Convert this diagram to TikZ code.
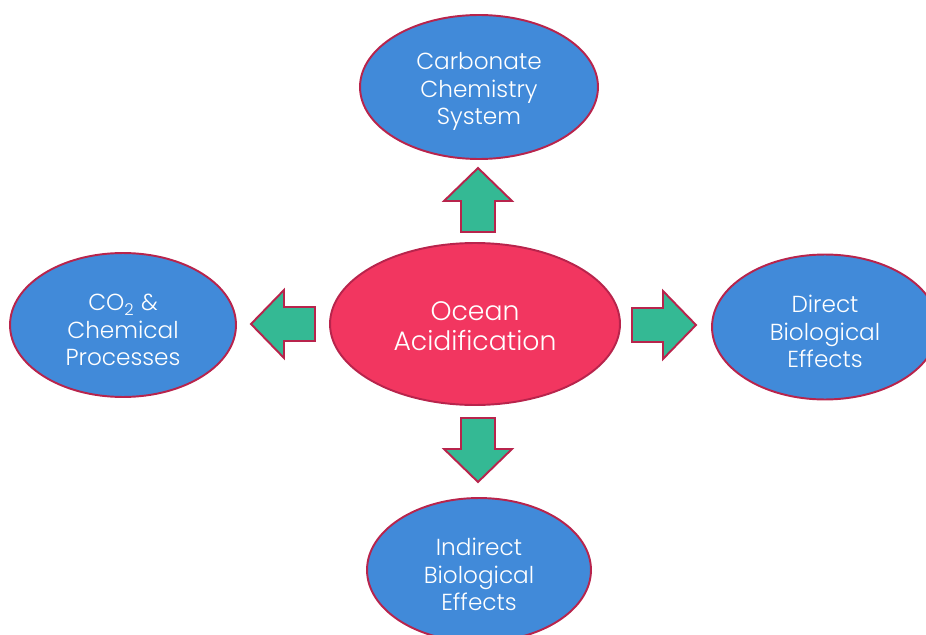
\documentclass[tikz,border=0pt]{standalone}
\usepackage{fontspec}
\setmainfont{Poppins Light}
\usetikzlibrary{shapes.geometric}
\definecolor{oceanblue}{HTML}{418AD9}
\definecolor{acidpink}{HTML}{F23660}
\definecolor{rimred}{HTML}{B8244C}
\definecolor{arrowgreen}{HTML}{34B994}
\newcommand{\lift}[1]{\rule{0pt}{#1}}
\tikzset{
  pod/.style={ellipse,draw=rimred,line width=1.1pt,text=white,align=center,inner sep=0pt},
  bubble/.style={pod,fill=oceanblue,font=\fontsize{13.2}{15.6}\selectfont},
  hub/.style={pod,fill=acidpink,font=\fontsize{15.2}{17}\selectfont},
  blockarrow/.pic={
    \draw[draw=rimred,fill=arrowgreen,line width=1.1pt,line join=miter]
      (0,-17) -- (31,-17) -- (31,-34) -- (64,0) -- (31,34) -- (31,17) -- (0,17) -- cycle;
  }
}

\begin{document}
\begin{tikzpicture}[x=0.02cm,y=-0.02cm]
    \clip (0,0) rectangle (926,635);

    \node [hub, minimum width=5.8cm, minimum height=3.24cm] (ocean) at (475,324) {\lift{13pt}Ocean\\Acidification};

    \node [bubble, minimum width=4.76cm, minimum height=2.88cm] (carbonate) at (479,87) {\lift{15pt}Carbonate\\Chemistry\\System};
    \node [bubble, minimum width=4.52cm, minimum height=2.88cm] (chemical) at (123,325) {\lift{15pt}CO\textsubscript{2} \&\\Chemical\\Processes};
    \node [bubble, minimum width=4.52cm, minimum height=2.9cm] (direct) at (825,327) {\lift{15pt}Direct\\Biological\\Effects};
    \node [bubble, minimum width=4.48cm, minimum height=2.88cm] (indirect) at (479,570) {\lift{15pt}Indirect\\Biological\\Effects};

    \pic (uparrow) [rotate=90] at (478,232) {blockarrow};
    \pic (leftarrow) [rotate=180] at (315,324) {blockarrow};
    \pic (rightarrow) at (632,325) {blockarrow};
    \pic (downarrow) [rotate=-90] at (478,418) {blockarrow};
\end{tikzpicture}
\end{document}
